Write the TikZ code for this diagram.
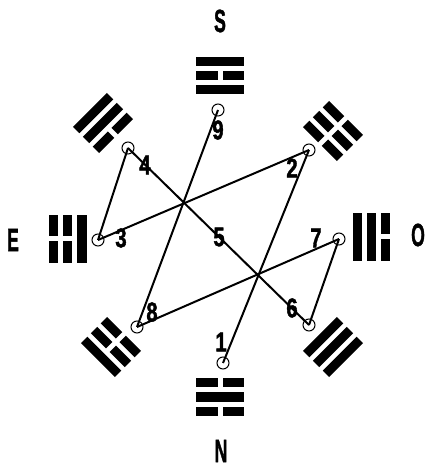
\documentclass[tikz,border=0pt]{standalone}
\usepackage{fontspec}
\setmainfont{Liberation Sans}
\newfontfamily\heavy[FakeBold=1.8]{Liberation Sans Bold}
\usetikzlibrary{positioning}

% one trigram: centre x, centre y, direction, inner/middle/outer line (1 = whole, 0 = broken)
\newcommand{\gua}[6]{%
  \begin{scope}[shift={(#1,#2)}, rotate=#3-90]
    \foreach \yy/\ss in {-14/#4, 0/#5, 14/#6} {
      \ifnum\ss=1
        \fill (-24,\yy-4.5) rectangle (24,\yy+4.5);
      \else
        \fill (-24,\yy-4.5) rectangle (-2.5,\yy+4.5);
        \fill (2.5,\yy-4.5) rectangle (24,\yy+4.5);
      \fi
    }
  \end{scope}}

\begin{document}
\begin{tikzpicture}[
    x=0.5pt, y=0.5pt,
    dot/.style={circle, draw, line width=0.5pt, minimum size=6pt, inner sep=0pt},
    link/.style={line width=1pt},
    num/.style={inner sep=0pt, font=\heavy\fontsize{13.5}{13.5}\selectfont},
    side/.style={inner sep=0pt, font=\heavy\fontsize{16}{16}\selectfont}
]
    \useasboundingbox (-218,-232) rectangle (210,237);

    % points of the square
    \foreach \n/\px/\py in {1/5/-126, 2/91/87, 3/-120/-3, 4/-90/89, 6/91/-88, 7/121/-2, 8/-81/-90, 9/0/127}
        \coordinate (p\n) at (\px,\py);

    \foreach \a/\b in {1/2, 2/3, 3/4, 4/6, 6/7, 7/8, 8/9}
        \draw[link] (p\a) -- (p\b);

    \foreach \n in {1,2,3,4,6,7,8,9}
        \node[dot] (c\n) at (p\n) {};

    % numbers
    \foreach \n/\lx/\ly in {1/3/-105, 2/74/69, 3/-97/-1, 4/-73/72, 5/1/0, 6/74/-71, 7/98/-1, 8/-66/-75, 9/0/107}
        \node[num] (n\n) at (\lx,\ly) {\scalebox{0.75}[1]{\n}};

    % trigrams
    \gua{2}{161}{90}{1}{0}{1}
    \gua{2}{-160}{270}{0}{1}{0}
    \gua{-150}{-2}{180}{1}{0}{0}
    \gua{153}{0}{0}{1}{1}{0}
    \gua{-115}{114}{135}{0}{1}{1}
    \gua{115}{106}{45}{0}{0}{0}
    \gua{-107}{-110}{225}{0}{0}{1}
    \gua{115}{-110}{315}{1}{1}{1}

    % directions
    \node[side] (south) at (2,216) {\scalebox{0.55}[1]{S}};
    \node[side] (north) at (3,-214) {\scalebox{0.55}[1]{N}};
    \node[side] (east) at (-205,-3) {\scalebox{0.55}[1]{E}};
    \node[side] (west) at (200,2) {\scalebox{0.55}[1]{O}};
\end{tikzpicture}
\end{document}
